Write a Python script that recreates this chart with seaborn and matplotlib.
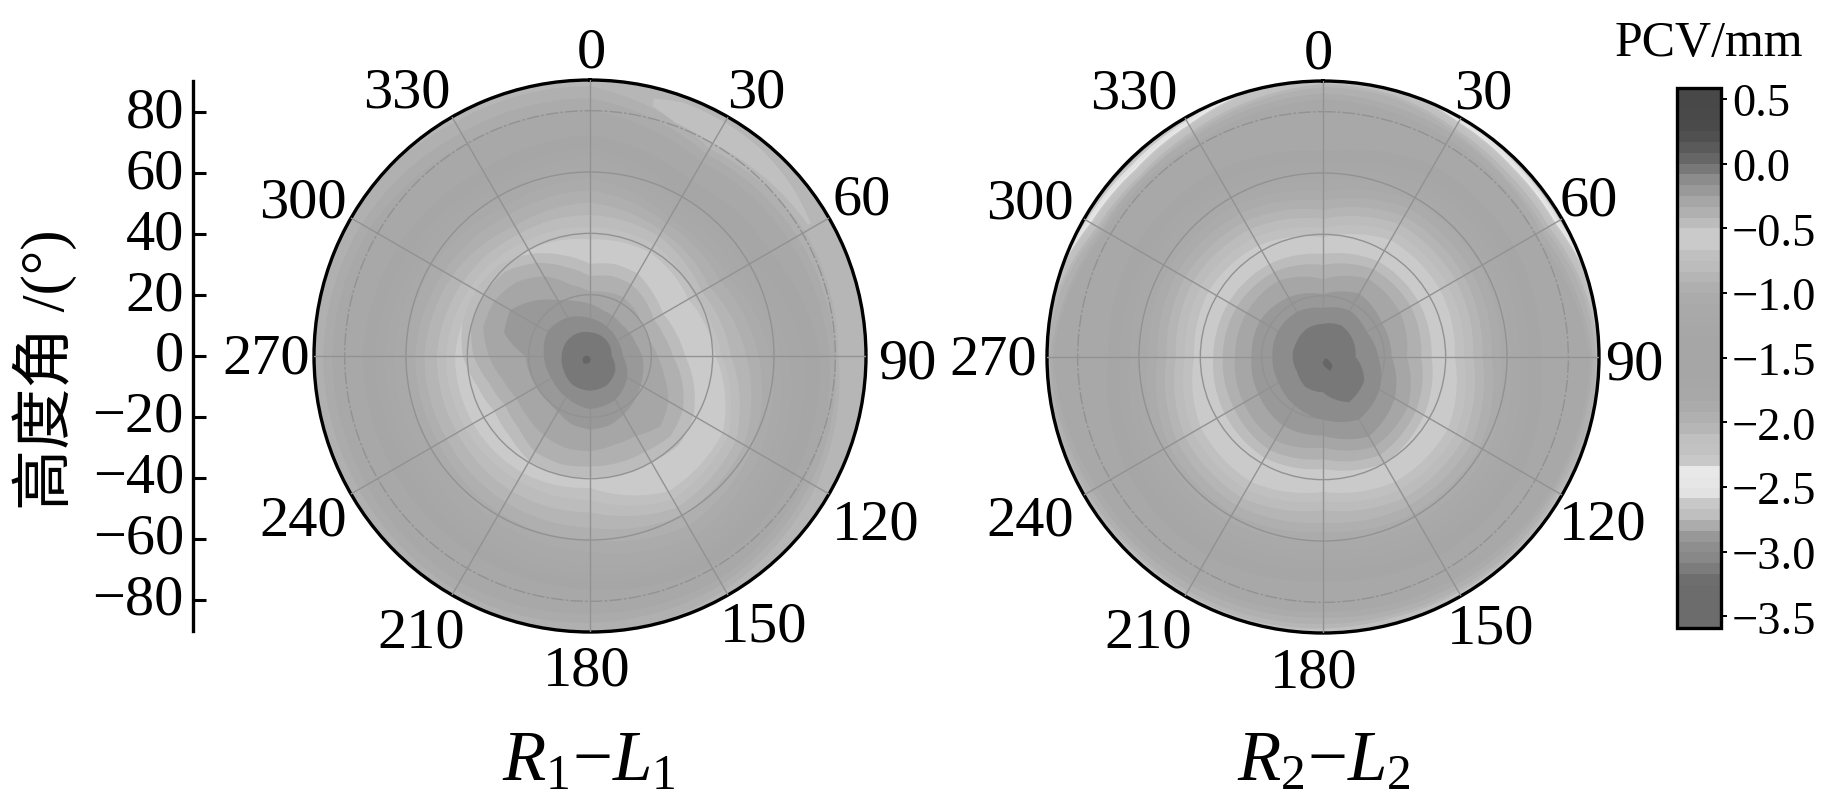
import numpy as np
import seaborn as sns
import matplotlib
matplotlib.use("Agg")
import matplotlib.pyplot as plt
from matplotlib.cm import ScalarMappable
from matplotlib.colors import BoundaryNorm, ListedColormap
from matplotlib.patches import PathPatch
from matplotlib.path import Path

W, H = 1843, 803

azimuth_ticks = [0, 30, 60, 90, 120, 150, 180, 210, 240, 270, 300, 330]
elevation_ticks = [80, 60, 40, 20, 0, -20, -40, -60, -80]
bar_ticks = [0.5, 0.0, -0.5, -1.0, -1.5, -2.0, -2.5, -3.0, -3.5]
bar_edges = np.linspace(-3.59, 0.585, 51)
bar_grays = ["#6c6c6c", "#6c6c6c", "#6c6c6c", "#6c6c6c", "#6e6e6e", "#7c7c7c", "#888888", "#8e8e8e",
             "#989898", "#acacac", "#bfbfbf", "#c8c8c8", "#e2e2e2", "#e6e6e6", "#e8e8e8", "#c8c8c8",
             "#c2c2c2", "#c0c0c0", "#b6b6b6", "#b0b0b0", "#ababab", "#a8a8a8", "#a7a7a7", "#a6a6a6",
             "#a6a6a6", "#a6a6a6", "#a6a6a6", "#a7a7a7", "#a8a8a8", "#a9a9a9", "#ababab", "#afafaf",
             "#b5b5b5", "#bcbcbc", "#c0c0c0", "#cacaca", "#cacaca", "#bcbcbc", "#b0b0b0", "#a6a6a6",
             "#999999", "#8c8c8c", "#787878", "#666666", "#5a5a5a", "#505050", "#4a4a4a", "#494949",
             "#484848", "#484848"]

# R1-L1: each row is one contour (PCV level), radii in degrees, azimuths evenly spaced from 0
r1_levels = [-2.085, -2.0, -1.92, -1.835, -1.42, -1.335, -1.25, -1.17, -1.085, -1.0, -0.918, -0.835, -0.75,
             -0.667, -0.5, -0.417, -0.334, -0.25, -0.167, -0.083]
r1_radii = [
    [91] * 12,
    [88, 78, 81, 81, 85, 88, 91, 91, 91, 91, 91, 88],
    [84, 76, 78, 80, 83, 86, 87, 88, 87, 87, 86, 84],
    [80, 73, 75, 78, 81, 84, 84, 85, 84, 84, 83, 80],
    [72, 66, 68, 75, 77, 79, 76, 75, 74, 74, 72, 70],
    [68, 60, 62, 70, 73, 76, 73, 72, 70, 70, 68, 66],
    [65, 58, 58, 65, 70, 74, 71, 69, 67, 67, 65, 63],
    [62, 55, 55, 62, 67, 71, 68, 66, 64, 64, 62, 60],
    [58, 52, 52, 59, 64, 68, 64, 62, 60, 60, 59, 56],
    [54, 50, 49, 55, 61, 64, 60, 59, 57, 57, 55, 53],
    [50, 47, 45, 51, 58, 60, 56, 55, 54, 54, 52, 49],
    [46, 45, 42, 46, 55, 57, 51, 51, 50, 50, 48, 46],
    [42, 42, 39, 43, 52, 54, 47, 47, 47, 47, 45, 43],
    [38, 39, 37, 41, 50, 51, 43, 44, 44, 44, 42, 40],
    [30, 31, 31, 29, 27.5, 29, 31, 35, 39, 41, 40, 40, 39.5, 40, 39.5, 37, 36, 38, 41.5, 43, 43, 42, 38.5, 34],
    [26, 27, 27, 25.5, 24, 25, 27, 31, 35, 37, 36, 36, 36, 36.5, 36, 33, 32, 34, 38, 40, 40, 39, 35, 30],
    [21, 21.5, 22, 21, 19.5, 20, 22, 25, 29.5, 32.4, 30, 30, 31, 31, 30, 28.5, 27.6, 29.5, 33, 36, 36, 34, 30, 24],
    [17, 15.5, 15, 14.5, 15, 15.5, 17, 18, 19, 20.5, 22, 23.5, 24, 23, 21, 20, 20, 20.5, 21, 29, 30, 25.5, 21, 18.5],
    [12.3, 11, 10.3, 10.7, 14, 16.5, 17.3, 15.5, 14.5, 15, 16, 14.5],
    [7.7, 7.5, 7.3, 7, 9.5, 11, 11.3, 11, 9.8, 9.2, 9, 8.5],
]
r1_dot_az = [222, 165, 190, 222, 255, 280]
r1_dot_r = [0.1, 0.9, 2.4, 3.2, 2.4, 0.9]
r1_patch_az = [14, 20, 30, 40, 50, 59, 59, 50, 40, 30, 20, 14]
r1_patch_r = [86.5, 88, 88, 87.5, 86, 84, 83, 82, 81, 80, 81, 84]

# R2-L2
r2_levels = [-3.085, -2.92, -2.75, -2.67, -2.585, -2.42, -2.335, -2.25, -2.17, -2.085, -2.0, -1.92, -1.835, -1.42,
             -1.335, -1.25, -1.17, -1.085, -1.0, -0.918, -0.835, -0.75, -0.667, -0.5, -0.417, -0.334, -0.25,
             -0.167, -0.083]
r2_radii = [
    [91] * 12,
    [91, 91, 91, 91, 91, 91, 91, 91, 91, 91, 91, 91, 91, 91, 91, 91, 91, 91, 91, 91, 90, 89.6, 90.1, 91],
    [91, 91, 90.8, 90.5, 90.5, 91, 91, 91, 91, 91, 91, 91, 91, 91, 91, 91, 91, 91, 91, 91, 89.7, 89.3, 89.8, 91],
    [91, 91, 90.5, 90, 90, 91, 91, 91, 91, 91, 91, 91, 91, 91, 91, 91, 91, 91, 91, 91, 89.5, 89, 89.5, 91],
    [91, 91, 90, 89, 89, 91, 91, 91, 91, 91, 91, 91, 91, 91, 91, 91, 91, 91, 91, 91, 89, 88.3, 89, 91],
    [91, 91, 89, 88, 88, 91, 91, 91, 91, 91, 91, 91, 91, 91, 91, 91, 91, 91, 91, 91, 88, 87, 88, 91],
    [91, 91, 88.5, 87.5, 87.5, 90.5, 91, 91, 91, 91, 91, 91, 91, 91, 91, 91, 91, 91, 91, 91, 87.5, 86.5, 87.5, 90],
    [91, 90.5, 88, 87, 87, 90, 91, 91, 91, 91, 91, 90, 90.5, 91, 91, 91, 91, 91, 91, 91, 87, 86, 87, 89.5],
    [90, 89.5, 87, 86, 86, 89, 91, 91, 90, 90, 89.5, 89, 89.5, 90, 90, 90, 90.5, 91, 91, 90, 86, 85, 86, 88],
    [89, 88.5, 86, 85, 85, 88, 90, 90, 89, 89, 88.5, 88, 88.5, 89, 89, 89, 89.5, 90, 91, 89, 85, 84, 85, 87],
    [88, 87.5, 85, 83.5, 83.5, 87, 89, 89, 88, 88, 87.5, 87, 87, 87.5, 88, 88, 88.5, 89, 90, 88, 84, 83, 84, 86],
    [86, 84, 82, 88, 87, 86, 85, 86, 87, 89, 83, 83],
    [84, 82, 80, 87, 86, 84, 83, 84, 85, 88, 82, 81],
    [67, 72, 72, 71, 75, 75, 73, 75, 74, 70, 71, 70],
    [63, 68, 68, 67, 71, 71, 69, 71, 70, 66, 67, 66],
    [60, 65, 65, 64, 68, 68, 66, 68, 67, 63, 64, 63],
    [57, 62, 62, 61, 65, 65, 63, 65, 64, 60, 61, 60],
    [54, 59, 59, 58, 62, 62, 60, 62, 61, 57, 58, 57],
    [51, 56, 56, 55, 59, 59, 57, 59, 58, 54, 55, 54],
    [48, 53, 53, 52, 56, 56, 54, 56, 55, 51, 52, 51],
    [45, 50, 50, 49, 53, 53, 50, 53, 52, 48, 49, 48],
    [42, 47, 47, 46, 50, 50, 47, 50, 49, 45, 46, 45],
    [39, 44, 44, 43, 47, 47, 44, 47, 46, 42, 43, 42],
    [33.6, 36, 36, 35.4, 38, 40, 36.5, 38, 37, 35.8, 35.5, 35],
    [30, 33, 33, 32, 35, 37, 33.3, 35, 33.5, 32.7, 32.5, 32],
    [25.4, 29.4, 29, 27.3, 32, 33.7, 29.5, 31.4, 29.9, 28.7, 28.8, 28.8],
    [20.5, 23.8, 22.2, 22.4, 27, 29.9, 25.6, 25.9, 24.3, 23.3, 23.7, 22.5],
    [16, 17.5, 16.4, 18, 21.3, 23.5, 20.4, 18.3, 16.7, 16.5, 16.9, 17],
    [10.8, 11.9, 11.2, 10.6, 15.5, 17, 11.5, 11.3, 9.7, 9.9, 9.9, 10.6],
]
r2_dot_az = [114, 132, 153, 165, 187, 150]
r2_dot_r = [1.07, 4.2, 5, 3.5, 1.75, 0.8]

# where each azimuth label sits relative to the disc centre, in pixels
label_dx = [1, 166, 272, 317, 286, 174, -3, -169, -287, -324, -287, -183]
label_dy = [303, 263, 156, -8, -168, -271, -315, -276, -164, -3, 153, 263]


def px_rect(left, top, right, bottom):
    return [left / W, 1 - bottom / H, (right - left) / W, (bottom - top) / H]


def draw_region(ax, az, radii, color, zorder, full_turn=True):
    theta = np.deg2rad(az)
    close = theta[0] + 2 * np.pi if full_turn else theta[0]
    verts = np.column_stack([np.append(theta, close), np.append(radii, radii[0])])
    # short steps so that a contour bends with the polar scale instead of being cut by chords
    path = Path(verts).interpolated(12)
    ax.add_patch(PathPatch(path, facecolor=color, edgecolor="none", zorder=zorder))


def draw_disc(cx, cy, levels, radii, dot_az, dot_r, label_shift=0):
    ax = fig.add_axes(px_rect(cx - 276, cy - 276, cx + 276, cy + 276), projection="polar")
    ax.set_theta_zero_location("N")
    ax.set_theta_direction(-1)
    for level, row in zip(levels, radii):
        az = np.linspace(0, 360, len(row), endpoint=False)
        # the two innermost bands hide the grid lines, as in the original
        draw_region(ax, az, row, cmap(norm(level + 0.04)), 3 if level > -0.2 else 1)
    draw_region(ax, dot_az, dot_r, cmap(norm(0.04)), 3, full_turn=False)
    ax.set_ylim(0, 90)
    ax.set_rgrids([20, 40, 60, 80], labels=[])
    ax.set_xticks(np.deg2rad(azimuth_ticks), labels=[])
    ax.tick_params(axis="x", length=0)
    ax.grid(True, color="#929292", linewidth=1.0)
    ax.yaxis.get_gridlines()[3].set_linestyle((0, (9, 1.5, 2, 1.5)))
    ax.set_axisbelow(False)
    ax.spines["polar"].set_linewidth(2.4)
    ax.spines["polar"].set_color("black")
    for a, dx, dy in zip(azimuth_ticks, label_dx, label_dy):
        ax.annotate(str(a), xy=(0, 0), xytext=(dx + label_shift, dy), textcoords="offset pixels",
                    ha="center", va="center", fontsize=42, annotation_clip=False)
    return ax


sns.set_theme(style="white")
plt.rcParams["font.family"] = ["Liberation Serif", "Noto Sans CJK SC"]
plt.rcParams["mathtext.fontset"] = "custom"
plt.rcParams["mathtext.rm"] = "Liberation Serif"
plt.rcParams["mathtext.it"] = "Liberation Serif:italic"
plt.rcParams["text.color"] = "black"
plt.rcParams["xtick.color"] = "black"
plt.rcParams["ytick.color"] = "black"

cmap = ListedColormap(sns.color_palette(bar_grays))
norm = BoundaryNorm(bar_edges, cmap.N)

fig = plt.figure(figsize=(W / 100, H / 100), dpi=100)
fig.patch.set_facecolor("white")

disc_ax = draw_disc(590, 357, r1_levels, r1_radii, r1_dot_az, r1_dot_r)
draw_disc(1323, 358, r2_levels, r2_radii, r2_dot_az, r2_dot_r, label_shift=-6)
# light crescent near the rim of the first disc
draw_region(disc_ax, r1_patch_az, r1_patch_r, cmap(norm(-2.13)), 1.5, full_turn=False)

# elevation scale on the left
scale_ax = fig.add_axes(px_rect(193, 82, 200, 632))
scale_ax.set_ylim(-90.3, 90.3)
scale_ax.set_xticks([])
scale_ax.set_yticks(elevation_ticks, labels=[str(v).replace("-", "\u2212") for v in elevation_ticks])
scale_ax.tick_params(axis="y", direction="in", length=9.4, width=2.2, pad=6.5, labelsize=42, left=True)
for label in scale_ax.get_yticklabels():
    label.set_verticalalignment("center")
scale_ax.patch.set_alpha(0)
sns.despine(ax=scale_ax, bottom=True)
scale_ax.spines["left"].set_linewidth(2.4)
scale_ax.spines["left"].set_color("black")
fig.text(45 / W, 1 - 370 / H, "高度角 /(°)", rotation=90, ha="center", va="center", fontsize=44)

# colour bar
bar_ax = fig.add_axes(px_rect(1677, 89, 1721, 629))
bar = fig.colorbar(ScalarMappable(norm=norm, cmap=cmap), cax=bar_ax, spacing="proportional", ticks=bar_ticks)
bar.ax.set_yticklabels([f"{v:.1f}".replace("-", "\u2212") for v in bar_ticks])
bar.ax.tick_params(length=4, width=1.4, pad=4, labelsize=33.5, color="black")
bar.ax.minorticks_off()
bar.outline.set_linewidth(2.4)
bar.outline.set_edgecolor("black")
fig.text(1709 / W, 1 - 44 / H, "PCV/mm", ha="center", va="center", fontsize=36)

fig.text(589 / W, 1 - 780 / H, r"$R_1{-}L_1$", ha="center", va="baseline", fontsize=51)
fig.text(1324 / W, 1 - 780 / H, r"$R_2{-}L_2$", ha="center", va="baseline", fontsize=51)

fig.savefig("out.png", dpi=100, facecolor="white")
